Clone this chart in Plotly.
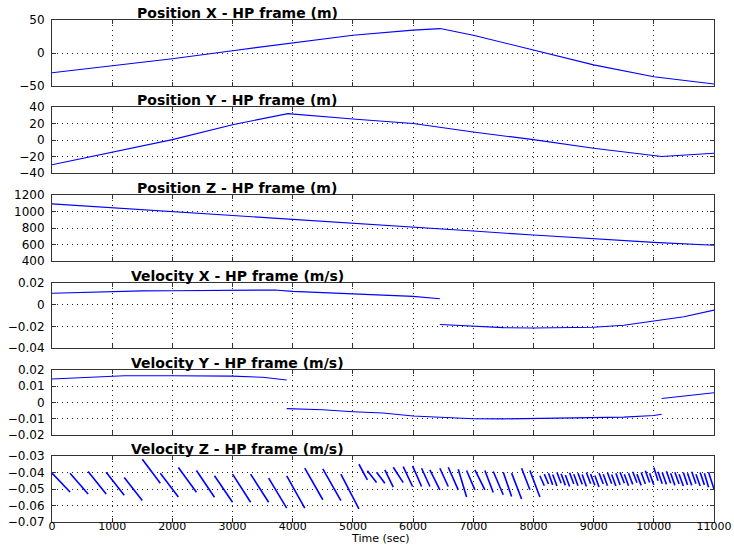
import plotly.graph_objects as go

# ---------------- data ----------------
pos_t = [0, 1000, 2000, 3000, 4000, 5000, 6000, 6450, 7000, 8000, 9000, 10000, 11000]
pos_x = [-30, -19.5, -8.7, 3.5, 15.8, 27, 34.7, 37, 27, 5, -18, -36, -47]

posy_t = [0, 1000, 2000, 3000, 3920, 5000, 6000, 7000, 8000, 9000, 10000, 10130, 11000]
pos_y = [-30, -15, 0.5, 18.5, 32, 25.5, 20, 9.7, 0.4, -10, -19, -20, -16]

posz_t = [0, 1000, 2000, 3000, 4000, 5000, 6000, 7000, 8000, 9000, 10000, 11000]
pos_z = [1092, 1046, 1000, 955, 908, 858, 810, 763, 715, 667, 626, 590]

velx_t1 = [0, 300, 1000, 1500, 2000, 3000, 3300, 3700, 4000, 4500, 5000, 5500, 6000, 6445]
velx_v1 = [0.0105, 0.011, 0.0122, 0.0127, 0.0129, 0.0132, 0.0138, 0.0135, 0.0123, 0.0112,
           0.0100, 0.0092, 0.0077, 0.0055]
velx_t2 = [6445, 7000, 7500, 8000, 8500, 9000, 9500, 10000, 10500, 11000]
velx_v2 = [-0.0183, -0.0200, -0.0212, -0.0215, -0.0213, -0.0208, -0.0190, -0.0153, -0.0112, -0.0050]

vely_t1 = [0, 300, 700, 1000, 1200, 2000, 3000, 3500, 3800, 3900]
vely_v1 = [0.0145, 0.015, 0.0155, 0.016, 0.0165, 0.0165, 0.0162, 0.0155, 0.0142, 0.0138]
vely_t2 = [3900, 4500, 5000, 5500, 6000, 6500, 7000, 7500, 8000, 8500, 9000, 9500, 10000, 10130]
vely_v2 = [-0.0038, -0.0045, -0.0057, -0.0065, -0.0083, -0.0092, -0.0100, -0.0101, -0.0098,
           -0.0097, -0.0095, -0.0090, -0.0080, -0.0072]
vely_t3 = [10130, 11000]
vely_v3 = [0.0025, 0.006]

# Velocity Z: sawtooth segments (boundaries, start value, end value of each segment)
velz_bounds = [0, 300, 600, 900, 1200, 1500, 1800, 2100, 2400, 2700, 3000, 3300, 3600, 3900,
               4200, 4500, 4800, 5100, 5240, 5393, 5531, 5670, 5836, 5991, 6141, 6279, 6445,
               6584, 6750, 6889, 7027, 7193, 7332, 7498, 7637, 7803, 7941, 8107,
               8180, 8250, 8320, 8390, 8460, 8530, 8600, 8670, 8740, 8810, 8880, 8950, 9020,
               9090, 9160, 9230, 9300, 9370, 9440, 9510, 9580, 9650, 9720, 9790, 9860, 9930,
               10000, 10070, 10140, 10210, 10280, 10350, 10420, 10490, 10560, 10630, 10700,
               10770, 10840, 10910, 11000]
velz_start = [-0.0404, -0.0404, -0.0394, -0.0398, -0.0430, -0.0320, -0.0404, -0.0370, -0.0388,
              -0.0420, -0.0410, -0.0410, -0.0434, -0.0420, -0.0374, -0.0378, -0.0410,
              -0.0350, -0.0390, -0.0398, -0.0384, -0.0368, -0.0364, -0.0360, -0.0374, -0.0384,
              -0.0374, -0.0368, -0.0380, -0.0388, -0.0384, -0.0388, -0.0394, -0.0398, -0.0404,
              -0.0374, -0.0388,
              -0.0420, -0.0410, -0.0405, -0.0412, -0.0400, -0.0408, -0.0415, -0.0402, -0.0410,
              -0.0405, -0.0412, -0.0400, -0.0410, -0.0418, -0.0404, -0.0410, -0.0402, -0.0412,
              -0.0405, -0.0398, -0.0410, -0.0404, -0.0395, -0.0410, -0.0400, -0.0390, -0.0405,
              -0.0370, -0.0395, -0.0400, -0.0392, -0.0405, -0.0398, -0.0410, -0.0400, -0.0404,
              -0.0395, -0.0410, -0.0400, -0.0405, -0.0398]
velz_end = [-0.0518, -0.0530, -0.0530, -0.0538, -0.0570, -0.0465, -0.0549, -0.0520, -0.0550,
            -0.0580, -0.0580, -0.0580, -0.0616, -0.0616, -0.0565, -0.0571, -0.0620,
            -0.0445, -0.0460, -0.0465, -0.0489, -0.0461, -0.0485, -0.0485, -0.0485, -0.0505,
            -0.0485, -0.0505, -0.0549, -0.0505, -0.0505, -0.0521, -0.0535, -0.0545, -0.0561,
            -0.0505, -0.0549,
            -0.0480, -0.0470, -0.0475, -0.0482, -0.0465, -0.0478, -0.0485, -0.0470, -0.0480,
            -0.0472, -0.0485, -0.0468, -0.0478, -0.0488, -0.0470, -0.0480, -0.0468, -0.0482,
            -0.0475, -0.0465, -0.0480, -0.0472, -0.0462, -0.0478, -0.0470, -0.0460, -0.0475,
            -0.0450, -0.0468, -0.0472, -0.0465, -0.0478, -0.0470, -0.0482, -0.0475, -0.0478,
            -0.0468, -0.0482, -0.0475, -0.0490, -0.0500]

titles = ["Position X - HP frame (m)", "Position Y - HP frame (m)", "Position Z - HP frame (m)",
          "Velocity X - HP frame (m/s)", "Velocity Y - HP frame (m/s)", "Velocity Z - HP frame (m/s)"]
y_ranges = [[-50, 50], [-40, 40], [400, 1200], [-0.04, 0.02], [-0.02, 0.02], [-0.07, -0.03]]
y_dticks = [50, 20, 200, 0.02, 0.01, 0.01]
x_ticks = [0, 1000, 2000, 3000, 4000, 5000, 6000, 7000, 8000, 9000, 10000, 11000]
x_ticktext = ["0", "1000", "2000", "3000", "4000", "5000", "6000", "7000", "8000", "9000",
              "10000", "11000"]

# ---------------- figure ----------------
W, H = 734, 545
BLUE = "#0000ff"
panel_px = [(20, 86), (107, 173), (195, 261), (283, 348), (370, 435), (456, 522)]

fig = go.Figure()

def add(row, xs, ys, width=1.1):
    fig.add_trace(go.Scatter(x=xs, y=ys, mode="lines", line=dict(color=BLUE, width=width),
                             xaxis="x" if row == 1 else f"x{row}",
                             yaxis="y" if row == 1 else f"y{row}",
                             showlegend=False, hoverinfo="skip"))

add(1, pos_t, pos_x)
add(2, posy_t, pos_y)
add(3, posz_t, pos_z)
add(4, velx_t1 + [None] + velx_t2, velx_v1 + [None] + velx_v2)
add(5, vely_t1 + [None] + vely_t2 + [None] + vely_t3,
    vely_v1 + [None] + vely_v2 + [None] + vely_v3)

zx, zy = [], []
for i, (a, b) in enumerate(zip(velz_start, velz_end)):
    zx += [velz_bounds[i], velz_bounds[i + 1], None]
    zy += [a, b, None]
add(6, zx, zy, width=1.6)

tick_font = dict(family="DejaVu Sans", size=12, color="black")
axis_common = dict(showline=True, linecolor="#333333", linewidth=1, mirror="ticks",
                   ticks="inside", ticklen=4, tickcolor="#333333", tickwidth=1,
                   showgrid=True, gridcolor="#222222", gridwidth=1, griddash="1px,4px",
                   zeroline=False, tickfont=tick_font, automargin=False)

annotations = []
for i in range(6):
    top, bot = panel_px[i]
    dom = [1 - bot / H, 1 - top / H]
    xa = "xaxis" if i == 0 else f"xaxis{i+1}"
    ya = "yaxis" if i == 0 else f"yaxis{i+1}"
    fig.layout[xa] = dict(axis_common, domain=[52 / W, 714 / W], range=[0, 11000],
                          tickvals=x_ticks, ticktext=x_ticktext, showticklabels=(i == 5),
                          ticklabelstandoff=-6,
                          anchor="y" if i == 0 else f"y{i+1}")
    fig.layout[xa].tickfont = dict(family="DejaVu Sans", size=11, color="black")
    fig.layout[ya] = dict(axis_common, domain=dom, range=y_ranges[i],
                          tick0=y_ranges[i][0], dtick=y_dticks[i],
                          ticklabelstandoff=4,
                          anchor="x" if i == 0 else f"x{i+1}")
    annotations.append(dict(text="<b>" + titles[i] + "</b>", xref="paper", yref="paper",
                            x=237 / W, y=1 - (top - 7) / H, xanchor="center", yanchor="middle",
                            showarrow=False,
                            font=dict(family="DejaVu Sans", size=14, color="black")))

annotations.append(dict(text="Time (sec)", xref="paper", yref="paper", x=380 / W, y=1 - 538.5 / H,
                        xanchor="center", yanchor="middle", showarrow=False, borderpad=0,
                        font=dict(family="DejaVu Sans", size=11, color="black")))

fig.update_layout(width=W, height=H, margin=dict(l=0, r=0, t=0, b=0),
                  paper_bgcolor="white", plot_bgcolor="white", annotations=annotations)

fig.write_html("out.html",
               post_script="document.body.style.margin='0';document.body.style.padding='0';"
                           "document.documentElement.style.overflow='hidden';")
